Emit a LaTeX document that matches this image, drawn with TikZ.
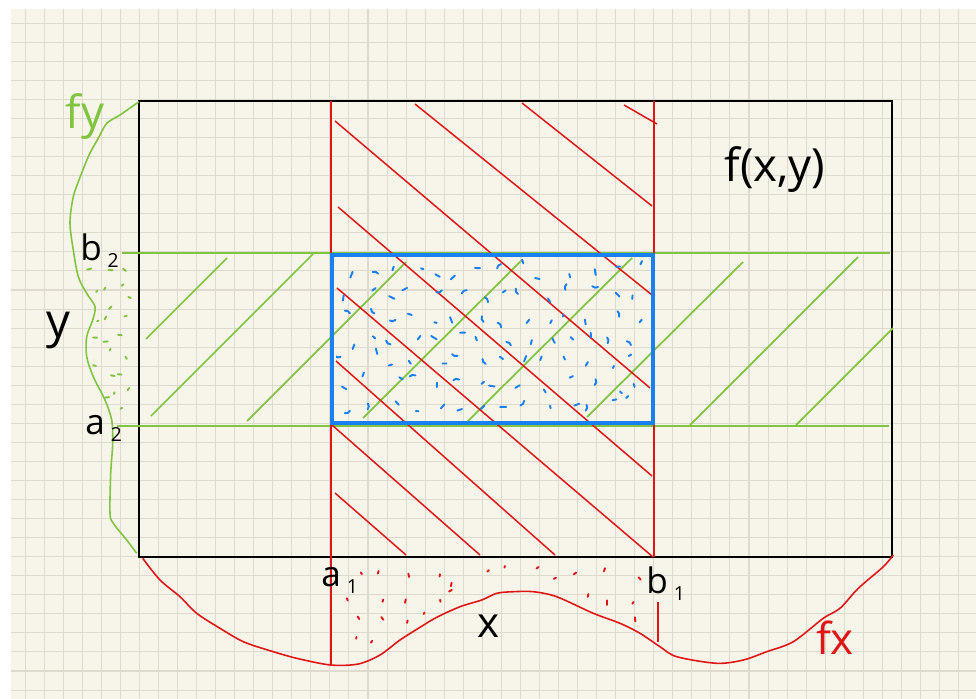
\documentclass[tikz,border=0pt]{standalone}
\usepackage{fontspec}
\setmainfont{Open Sans}
\usepackage{xcolor}
\usepackage{tikz}
\usetikzlibrary{positioning}

\definecolor{paper}{RGB}{247,245,233}
\definecolor{gridline}{RGB}{222,219,206}
\definecolor{inkred}{RGB}{222,22,22}
\definecolor{inkgreen}{RGB}{128,196,66}
\definecolor{inkblue}{RGB}{24,128,240}

\newcommand\handsize[1]{\fontsize{#1}{#1}\selectfont}
\newcommand\lowidx[1]{\,\raisebox{-4pt}{\fontsize{11}{11}\selectfont #1}}

\begin{document}
\begin{tikzpicture}[x=0.02cm, y=-0.02cm,
  gridline/.style={draw=gridline, line width=0.6pt},
  redline/.style={draw=inkred, line width=0.85pt},
  greenline/.style={draw=inkgreen, line width=1pt},
  speck/.style={line width=1.1pt, line cap=round},
  hand/.style={inner sep=0pt, font=\handsize{#1}}]

  % paper
  \useasboundingbox (0,0) rectangle (976,699);
  \fill[white] (0,0) rectangle (976,699);
  \fill[paper] (11,9) rectangle (976,699);
  \foreach \i in {0,...,49}
    \draw[gridline] ({25.1+19.05*\i},9) -- ({25.1+19.05*\i},699);
  \foreach \j in {0,...,35}
    \draw[gridline] (11,{23.3+19.05*\j}) -- (976,{23.3+19.05*\j});

  % domain
  \draw[line width=1.1pt] (139,101) rectangle (892,557);

  % y-interval [a2,b2]
  \draw[greenline] (122,253) -- (890,253);
  \draw[greenline] (117,426) -- (889,426);
  \draw[greenline] (146,339) -- (227,258);
  \draw[greenline] (151,416) -- (313,254);
  \draw[greenline] (247,421) -- (406,262);
  \draw[greenline] (363,418) -- (522,260);
  \draw[greenline] (466,423) -- (632,258);
  \draw[greenline] (587,417) -- (743,262);
  \draw[greenline] (690,425) -- (858,257);
  \draw[greenline] (796,425) -- (893,328);

  % x-interval [a1,b1]
  \draw[redline] (331,101) -- (331,665);
  \draw[redline] (654,101) -- (654,557);
  \draw[redline] (658,602) -- (658,642);
  \draw[redline] (335,121) -- (650,388);
  \draw[redline] (415,104) -- (652,295);
  \draw[redline] (522,103) -- (652,206);
  \draw[redline] (624,105) -- (657,124);
  \draw[redline] (338,207) -- (652,476);
  \draw[redline] (337,288) -- (653,557);
  \draw[redline] (336,361) -- (555,555);
  \draw[redline] (332,425) -- (480,555);
  \draw[redline] (335,493) -- (406,555);

  % marginal densities
  \draw[inkgreen, line width=0.9pt] plot[smooth] coordinates {(139,101.7) (120,115)
    (106.7,123.3) (98.3,138.3) (90,153) (81.7,173) (73.3,196.7) (70,223) (73.3,250)
    (78.3,276.7) (86.7,293.3) (95,306.7) (92.7,320) (86.7,336.7) (86.7,356.7)
    (93.3,376.7) (105,400) (111.7,420) (112.7,443.3) (110.7,473.3) (110,513.3)
    (113.3,523.3) (126.7,540) (136.7,553.3)};
  \draw[inkred, line width=0.9pt] plot[smooth] coordinates {(142.7,558.3) (160,580)
    (180,596.7) (196.7,613.3) (220,628.3) (243.3,641.7) (270,650.7) (296.7,658.3)
    (330.7,665) (358.3,664) (380,655) (400,640) (420,627.3) (436.7,617.3) (460,606.7)
    (481.7,600) (496.7,593.3) (513.3,591.7) (533.3,591.7) (556.7,596.7) (593.3,613.3)
    (620,623.3) (640,633.3) (660,646.7) (676.7,656.7) (716.7,663.3) (743.3,660)
    (766.7,651.7) (793.3,641.7) (823.3,618.3) (840,608.3) (858.3,588.3) (883.3,566.7)
    (893.3,555)};

  % speckles, one per cell
  \pgfmathsetseed{23}
  \begin{scope}
    \clip (85,262) -- (137,262) -- (137,412) -- (108,412) -- (96,382) -- (91,357)
      -- (91,337) -- (97,320) -- (99,306) -- (91,292) -- (85,276) -- cycle;
    \foreach \i in {0,...,2}
      \foreach \j in {0,...,8}{
        \pgfmathsetmacro\sx{87+17*\i+rnd*13}
        \pgfmathsetmacro\sy{265+16.5*\j+rnd*12}
        \pgfmathsetmacro\sa{rnd*360}
        \draw[speck, inkgreen] (\sx,\sy) -- ++(\sa:{1.5+rnd*3});
      }
  \end{scope}
  \begin{scope}
    \clip (343,561) -- (650,561) -- (650,630) -- (620,619) -- (593,608) -- (557,592)
      -- (533,588) -- (497,590) -- (460,603) -- (437,614) -- (400,636) -- (380,648)
      -- (343,652) -- cycle;
    \foreach \i in {0,...,11}
      \foreach \j in {0,...,3}{
        \pgfmathsetmacro\sx{346+25*\i+rnd*20}
        \pgfmathsetmacro\sy{566+22*\j+rnd*17}
        \pgfmathsetmacro\sa{40+rnd*100}
        \draw[speck, inkred] (\sx,\sy) -- ++(\sa:{1.5+rnd*3});
      }
  \end{scope}
  \begin{scope}
    \clip (336,259) rectangle (649,420);
    \foreach \i in {0,...,13}
      \foreach \j in {0,...,6}{
        \pgfmathsetmacro\sx{340+22*\i+rnd*16}
        \pgfmathsetmacro\sy{263+22.5*\j+rnd*16}
        \pgfmathsetmacro\sa{rnd*360}
        \pgfmathsetmacro\sk{rnd}
        \ifdim\sk pt<0.25pt
          \draw[speck, inkblue] (\sx,\sy) arc[start angle=\sa, delta angle=80, radius=4.5];
        \else
          \draw[speck, inkblue] (\sx,\sy) -- ++(\sa:{2+rnd*4.5});
        \fi
      }
  \end{scope}

  % rectangle [a1,b1] x [a2,b2]
  \draw[inkblue, line width=2pt] (332,255) rectangle (653,423);

  % labels
  \node[hand=26] (fxy) at (775,170) {f(x,y)};
  \node[hand=26, text=inkgreen] (fylab) at (85,117) {fy};
  \node[hand=25, text=inkred] (fxlab) at (835,638) {fx};
  \node[hand=27] (ylab) at (58,331) {y};
  \node[hand=24] (xlab) at (489,626) {x};
  \node[hand=20, anchor=base west] (b2lab) at (80,260) {b\lowidx{2}};
  \node[hand=20, anchor=base west] (a2lab) at (85,434) {a\lowidx{2}};
  \node[hand=20, anchor=base west] (a1lab) at (321,586) {a\lowidx{1}};
  \node[hand=20, anchor=base west] (b1lab) at (646,593) {b\lowidx{1}};
\end{tikzpicture}
\end{document}
